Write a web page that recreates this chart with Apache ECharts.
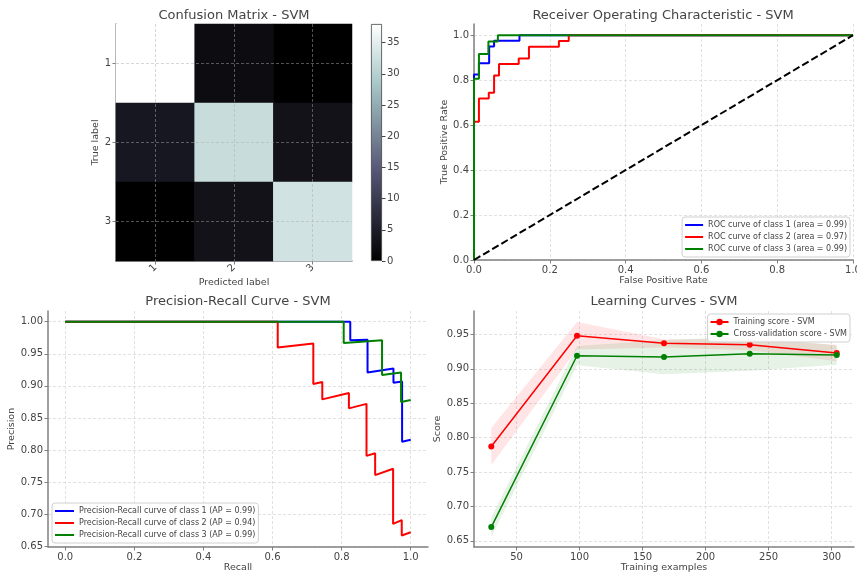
<!DOCTYPE html>
<html>
<head>
<meta charset="utf-8">
<title>SVM evaluation</title>
<script src="https://cdn.jsdelivr.net/npm/echarts@6/dist/echarts.min.js"></script>
<style>
  html, body { margin: 0; padding: 0; background: #fff; }
  #chart { width: 857px; height: 575px; }
</style>
</head>
<body>
<div id="chart"></div>
<script>
// confusion matrix (rows = true label, cols = predicted label)
const classLabels = ['1', '2', '3']
const confusion = [
  [38, 2, 0],
  [4, 32, 3],
  [0, 3, 33]
]
const colorbarMax = 38
const colorbarTicks = [0, 5, 10, 15, 20, 25, 30, 35]

// ROC curves
const rocArea = [0.99, 0.97, 0.99]
const rocFpr1 = [0, 0, 0.013, 0.013, 0.040, 0.040, 0.053, 0.053, 0.120, 0.120, 1]
const rocTpr1 = [0, 0.825, 0.825, 0.875, 0.875, 0.950, 0.950, 0.975, 0.975, 1, 1]
const rocFpr2 = [0, 0, 0.013, 0.013, 0.039, 0.039, 0.053, 0.053, 0.066, 0.066, 0.118, 0.118, 0.145, 0.145, 0.224, 0.224, 0.250, 0.250, 1]
const rocTpr2 = [0, 0.615, 0.615, 0.718, 0.718, 0.744, 0.744, 0.821, 0.821, 0.872, 0.872, 0.897, 0.897, 0.949, 0.949, 0.974, 0.974, 1, 1]
const rocFpr3 = [0, 0, 0.013, 0.013, 0.038, 0.038, 0.063, 0.063, 1]
const rocTpr3 = [0, 0.806, 0.806, 0.917, 0.917, 0.972, 0.972, 1, 1]
const chanceLine = [0, 1]
const rocTicks = [0, 0.2, 0.4, 0.6, 0.8, 1.0]

// precision-recall curves
const prAp = [0.99, 0.94, 0.99]
const prRecall1 = [0, 0.825, 0.825, 0.875, 0.875, 0.950, 0.950, 0.975, 0.975, 1]
const prPrecision1 = [1, 1, 0.971, 0.972, 0.921, 0.927, 0.905, 0.907, 0.813, 0.816]
const prRecall2 = [0, 0.615, 0.615, 0.718, 0.718, 0.744, 0.744, 0.821, 0.821, 0.872, 0.872, 0.897, 0.897, 0.949, 0.949, 0.974, 0.974, 1]
const prPrecision2 = [1, 1, 0.960, 0.966, 0.903, 0.906, 0.879, 0.889, 0.865, 0.872, 0.791, 0.795, 0.761, 0.771, 0.685, 0.691, 0.667, 0.672]
const prRecall3 = [0, 0.806, 0.806, 0.917, 0.917, 0.972, 0.972, 1]
const prPrecision3 = [1, 1, 0.967, 0.971, 0.917, 0.921, 0.875, 0.878]
const prXTicks = [0, 0.2, 0.4, 0.6, 0.8, 1.0]
const prYTicks = [0.65, 0.70, 0.75, 0.80, 0.85, 0.90, 0.95, 1.00]

// learning curves
const trainSizes = [30, 98, 167, 235, 304]
const trainMean = [0.787, 0.948, 0.937, 0.935, 0.923]
const trainStd = [0.027, 0.020, 0.006, 0.008, 0.012]
const cvMean = [0.670, 0.919, 0.917, 0.922, 0.920]
const cvStd = [0.014, 0.014, 0.025, 0.025, 0.014]
const lcXTicks = [50, 100, 150, 200, 250, 300]
const lcYTicks = [0.65, 0.70, 0.75, 0.80, 0.85, 0.90, 0.95]

const TEXT = '#444'
const SPINE = '#808080'
const classColors = ['#0000ff', '#ff0000', '#008000']

// matplotlib "bone" colormap
function bone(t) {
  const r = t < 0.746032 ? 0.652778 * t / 0.746032 : 0.652778 + (t - 0.746032) * 0.347222 / 0.253968
  const g = t < 0.365079 ? 0.319444 * t / 0.365079
    : t < 0.746032 ? 0.319444 + (t - 0.365079) * 0.458334 / 0.380953
      : 0.777778 + (t - 0.746032) * 0.222222 / 0.253968
  const b = t < 0.365079 ? 0.444444 * t / 0.365079 : 0.444444 + (t - 0.365079) * 0.555556 / 0.634921
  return 'rgb(' + [r, g, b].map(c => Math.round(c * 255)).join(',') + ')'
}
const boneStops = []
for (let i = 0; i <= 40; i++) boneStops.push(bone(i / 40))

const pairs = (xs, ys) => xs.map((x, i) => [x, ys[i]])

function valueAxis(gridIndex, min, max, ticks, digits, name, nameGap) {
  return {
    type: 'value',
    gridIndex,
    min,
    max,
    name,
    nameLocation: 'middle',
    nameGap,
    nameTextStyle: { color: TEXT, fontSize: 9.5 },
    axisLine: { show: true, onZero: false, lineStyle: { color: SPINE, width: 1.5 } },
    axisTick: { show: true, length: 3.5, customValues: ticks, lineStyle: { color: SPINE } },
    axisLabel: { customValues: ticks, color: TEXT, fontSize: 10, margin: 5, formatter: v => v.toFixed(digits) },
    splitLine: { show: true, lineStyle: { color: '#d9d9d9', type: [3, 2], width: 0.8 } }
  }
}

const legendBase = {
  orient: 'vertical',
  itemHeight: 8,
  itemGap: 4,
  padding: [4, 3, 4, 2],
  borderColor: '#d0d0d0',
  borderWidth: 1,
  borderRadius: 3,
  backgroundColor: 'rgba(255,255,255,0.85)',
  selectedMode: false,
  textStyle: { fontSize: 8, color: TEXT }
}

const rocNames = classLabels.map((c, i) => 'ROC curve of class ' + c + ' (area = ' + rocArea[i].toFixed(2) + ')')
const prNames = classLabels.map((c, i) => 'Precision-Recall curve of class ' + c + ' (AP = ' + prAp[i].toFixed(2) + ')')
const lcNames = ['Training score - SVM', 'Cross-validation score - SVM']
const rocData = [pairs(rocFpr1, rocTpr1), pairs(rocFpr2, rocTpr2), pairs(rocFpr3, rocTpr3)]
const prData = [pairs(prRecall1, prPrecision1), pairs(prRecall2, prPrecision2), pairs(prRecall3, prPrecision3)]

const heatData = []
confusion.forEach((row, r) => row.forEach((v, c) => heatData.push([c, r, v])))

const chart = echarts.init(document.getElementById('chart'))

const series = [
  {
    type: 'heatmap',
    xAxisIndex: 0,
    yAxisIndex: 0,
    data: heatData,
    itemStyle: { borderWidth: 0 },
    markLine: {
      silent: true,
      symbol: ['none', 'none'],
      label: { show: false },
      lineStyle: { color: 'rgba(170,170,170,0.6)', type: [3, 2], width: 0.8 },
      data: classLabels.map(c => ({ xAxis: c })).concat(classLabels.map(c => ({ yAxis: c })))
    }
  },
  {
    type: 'bar',
    xAxisIndex: 1,
    yAxisIndex: 1,
    data: [colorbarMax],
    barWidth: '100%',
    silent: true,
    itemStyle: {
      borderColor: '#444',
      borderWidth: 0.8,
      color: new echarts.graphic.LinearGradient(0, 1, 0, 0,
        boneStops.map((c, i) => ({ offset: i / (boneStops.length - 1), color: c })))
    }
  }
]

rocData.forEach((d, i) => series.push({
  name: rocNames[i], type: 'line', xAxisIndex: 2, yAxisIndex: 2, data: d,
  symbol: 'none', color: classColors[i], lineStyle: { width: 2 }
}))
series.push({
  type: 'line', xAxisIndex: 2, yAxisIndex: 2, data: pairs(chanceLine, chanceLine),
  symbol: 'none', color: '#000', lineStyle: { width: 2, type: [7.4, 3.2] }
})

prData.forEach((d, i) => series.push({
  name: prNames[i], type: 'line', xAxisIndex: 3, yAxisIndex: 3, data: d,
  symbol: 'none', color: classColors[i], lineStyle: { width: 2 }
}))

// mean ± std band, drawn as one polygon through the axis scales
function band(mean, std, fill) {
  const rows = trainSizes.map((x, i) => [x, mean[i] - std[i], mean[i] + std[i]])
  return {
    type: 'custom', xAxisIndex: 4, yAxisIndex: 4, silent: true,
    data: rows,
    encode: { x: 0, y: [1, 2] },
    renderItem: function (params, api) {
      if (params.dataIndex !== 0) return
      const pts = []
      rows.forEach(r => pts.push(api.coord([r[0], r[2]])))
      rows.slice().reverse().forEach(r => pts.push(api.coord([r[0], r[1]])))
      return { type: 'polygon', shape: { points: pts }, style: { fill } }
    }
  }
}
series.push(band(trainMean, trainStd, 'rgba(255,0,0,0.1)'))
series.push(band(cvMean, cvStd, 'rgba(0,128,0,0.1)'))
series.push({
  name: lcNames[0], type: 'line', xAxisIndex: 4, yAxisIndex: 4, data: pairs(trainSizes, trainMean),
  symbol: 'circle', symbolSize: 6, color: '#ff0000', lineStyle: { width: 1.5 }
})
series.push({
  name: lcNames[1], type: 'line', xAxisIndex: 4, yAxisIndex: 4, data: pairs(trainSizes, cvMean),
  symbol: 'circle', symbolSize: 6, color: '#008000', lineStyle: { width: 1.5 }
})

const titleStyle = { color: TEXT, fontSize: 13, fontWeight: 'normal' }
const titleAt = (text, left, top) => ({ text, left, top, textAlign: 'center', textVerticalAlign: 'top', padding: 0, textStyle: titleStyle })
const gridAt = (left, top, width, height) => ({ left, top, width, height, outerBoundsMode: 'none', containLabel: false })

const option = {
  animation: false,
  textStyle: { fontFamily: 'DejaVu Sans' },
  title: [
    titleAt('Confusion Matrix - SVM', 234, 9),
    titleAt('Receiver Operating Characteristic - SVM', 663, 9),
    titleAt('Precision-Recall Curve - SVM', 238, 295),
    titleAt('Learning Curves - SVM', 664, 295)
  ],
  legend: [
    Object.assign({}, legendBase, { data: rocNames, right: 7, top: 217, itemWidth: 18, itemStyle: { opacity: 0 } }),
    Object.assign({}, legendBase, { data: prNames, left: 52, top: 503, itemWidth: 19, itemStyle: { opacity: 0 } }),
    Object.assign({}, legendBase, { data: lcNames, right: 7, top: 314, itemWidth: 18 })
  ],
  visualMap: {
    type: 'continuous',
    show: false,
    seriesIndex: 0,
    min: 0,
    max: colorbarMax,
    inRange: { color: boneStops }
  },
  grid: [
    gridAt(116, 24, 236, 237),
    gridAt(371, 24, 11, 237),
    gridAt(474, 24, 379, 236),
    gridAt(48, 311, 380, 236),
    gridAt(474, 311, 380, 236)
  ],
  xAxis: [
    {
      type: 'category', gridIndex: 0, data: classLabels,
      name: 'Predicted label', nameLocation: 'middle', nameGap: 16,
      nameTextStyle: { color: TEXT, fontSize: 9.5 },
      axisLine: { show: true, lineStyle: { color: SPINE, width: 1.5 } },
      axisTick: { show: true, alignWithLabel: true, length: 3.5, lineStyle: { color: SPINE } },
      axisLabel: { rotate: 45, color: TEXT, fontSize: 10, margin: 5 },
      splitLine: { show: false }
    },
    { type: 'category', gridIndex: 1, data: ['bar'], show: false },
    valueAxis(2, 0, 1, rocTicks, 1, 'False Positive Rate', 15),
    valueAxis(3, -0.05, 1.05, prXTicks, 1, 'Recall', 14.5),
    valueAxis(4, 16.3, 317.7, lcXTicks, 0, 'Training examples', 14.5)
  ],
  yAxis: [
    {
      type: 'category', gridIndex: 0, data: classLabels, inverse: true,
      name: 'True label', nameLocation: 'middle', nameGap: 8,
      nameTextStyle: { color: TEXT, fontSize: 9.5 },
      axisLine: { show: true, lineStyle: { color: SPINE, width: 1.5 } },
      axisTick: { show: true, alignWithLabel: true, length: 3.5, lineStyle: { color: SPINE } },
      axisLabel: { color: TEXT, fontSize: 10, margin: 5 },
      splitLine: { show: false }
    },
    {
      type: 'value', gridIndex: 1, min: 0, max: colorbarMax, position: 'right',
      axisLine: { show: false },
      axisTick: { show: true, length: 3.5, customValues: colorbarTicks, lineStyle: { color: '#444' } },
      axisLabel: { customValues: colorbarTicks, color: TEXT, fontSize: 10, margin: 5 },
      splitLine: { show: false }
    },
    valueAxis(2, 0, 1.05, rocTicks, 1, 'True Positive Rate', 21),
    valueAxis(3, 0.649, 1.0167, prYTicks, 2, 'Precision', 25),
    valueAxis(4, 0.641, 0.984, lcYTicks, 2, 'Score', 24)
  ],
  series
}

chart.setOption(option)
window.addEventListener('resize', function () {
  chart.resize()
})
</script>
</body>
</html>
